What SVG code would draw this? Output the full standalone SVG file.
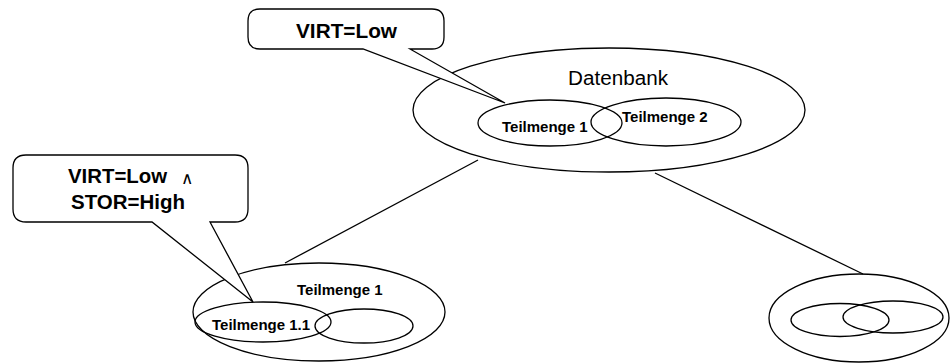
<svg xmlns="http://www.w3.org/2000/svg" width="951" height="363" viewBox="0 0 951 363">
<style>
.s{fill:none;stroke:#000;stroke-width:1.3}
.c{fill:#fff;stroke:#000;stroke-width:1.3;stroke-linejoin:miter}
.t{font-family:"Liberation Sans",Arial,sans-serif;font-size:15px;font-weight:bold;fill:#000}
.big{font-family:"Liberation Sans",Arial,sans-serif;font-size:20px;font-weight:bold;fill:#000}
.db{font-family:"Liberation Sans",Arial,sans-serif;font-size:20px;fill:#000}
</style>
<rect width="951" height="363" fill="#fff"/>
<g id="connectors">
<line class="s" x1="478" y1="160" x2="285" y2="263"/>
<line class="s" x1="655" y1="173" x2="863" y2="274"/>
</g>
<g id="datenbank">
<ellipse class="s" cx="609" cy="110" rx="196" ry="62"/>
<ellipse class="s" cx="550" cy="123" rx="72" ry="23"/>
<ellipse class="s" cx="666" cy="122" rx="75" ry="24"/>
<text class="db" x="568" y="85" textLength="100" lengthAdjust="spacingAndGlyphs">Datenbank</text>
<text class="t" x="502" y="132">Teilmenge 1</text>
<text class="t" x="622" y="122">Teilmenge 2</text>
</g>
<g id="teilmenge1">
<ellipse class="s" cx="319" cy="312" rx="126" ry="49"/>
<ellipse class="s" cx="263" cy="322" rx="68" ry="20"/>
<ellipse class="s" cx="364" cy="326" rx="49" ry="17"/>
<text class="t" x="297" y="295">Teilmenge 1</text>
<text class="t" x="212" y="330">Teilmenge 1.1</text>
</g>
<g id="teilmenge2">
<ellipse class="s" cx="859" cy="318" rx="90" ry="44"/>
<ellipse class="s" cx="840" cy="320" rx="49" ry="16.5"/>
<ellipse class="s" cx="893" cy="317" rx="50" ry="16"/>
</g>
<g id="callout1">
<path class="c" d="M260,9 H432 Q444,9 444,21 V37 Q444,49 432,49 H410 L505,103 L363,49 H260 Q248,49 248,37 V21 Q248,9 260,9 Z"/>
<text class="big" x="296" y="38" textLength="101" lengthAdjust="spacingAndGlyphs">VIRT=Low</text>
</g>
<g id="callout2">
<path class="c" d="M26,155 H235 Q248,155 248,168 V209 Q248,222 235,222 H210 L253,302 L152,222 H26 Q13,222 13,209 V168 Q13,155 26,155 Z"/>
<text class="big" x="68" y="183" textLength="99" lengthAdjust="spacingAndGlyphs">VIRT=Low</text>
<text x="181" y="184" font-family="Liberation Sans,Arial,sans-serif" font-size="17" fill="#000">∧</text>
<text class="big" x="71" y="209" textLength="114" lengthAdjust="spacingAndGlyphs">STOR=High</text>
</g>
</svg>
